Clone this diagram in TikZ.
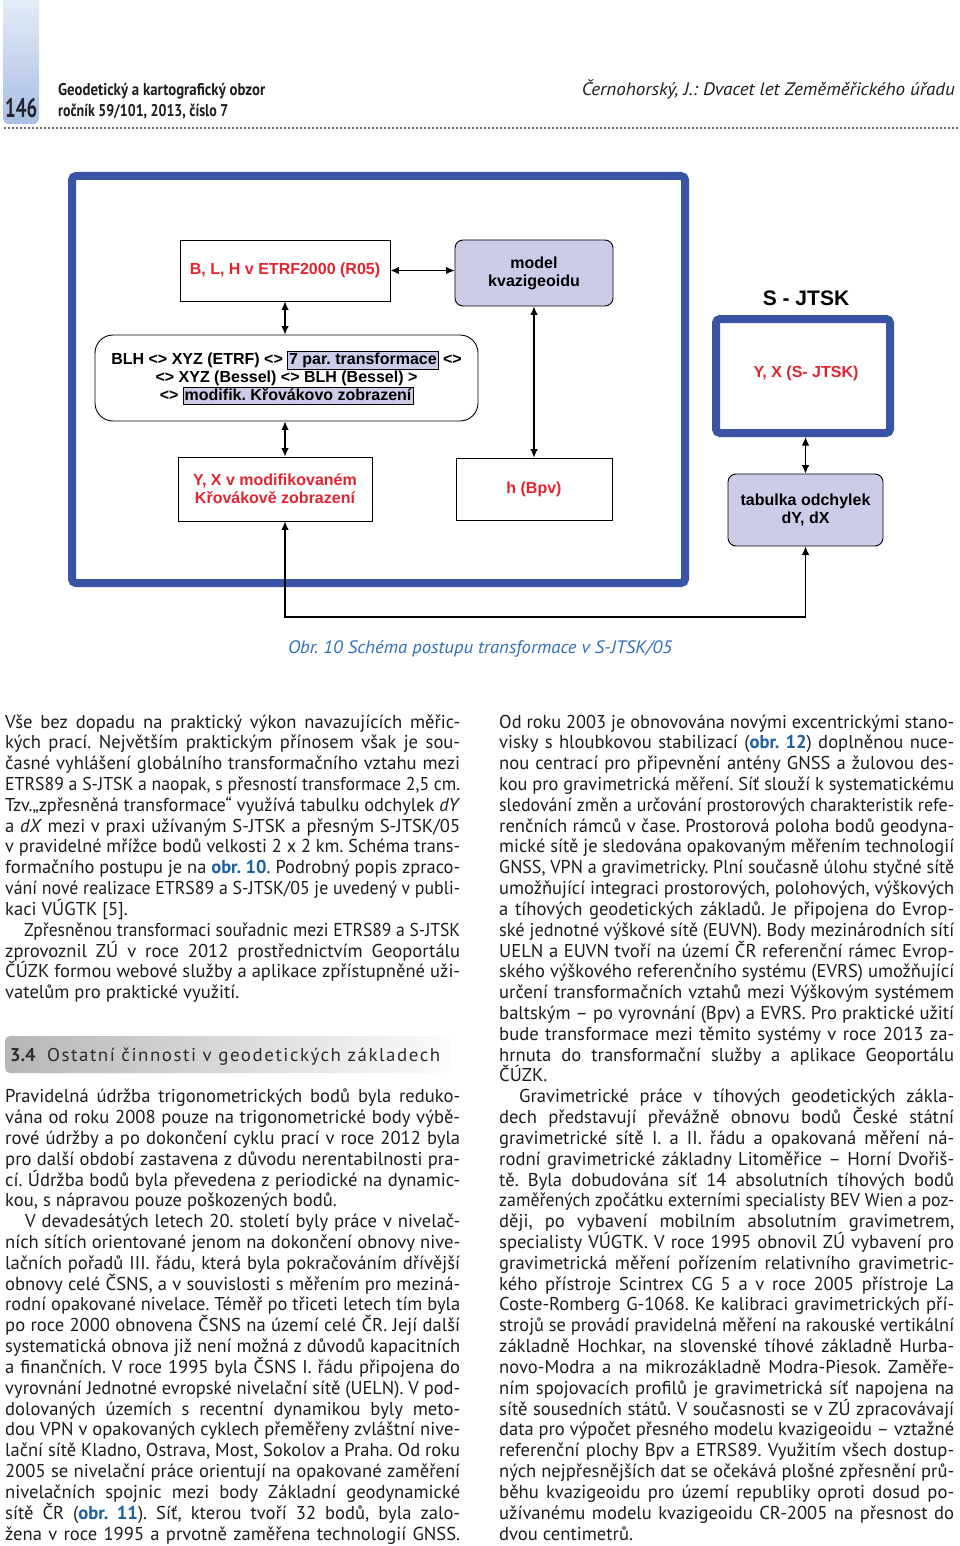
\documentclass[tikz,border=0pt]{standalone}
\usepackage{fontspec}
\usepackage{graphicx}
\setmainfont{PT Sans}
\newfontfamily\arialf{Liberation Sans}
\usetikzlibrary{arrows.meta}

\definecolor{frameblue}{RGB}{58,84,165}
\definecolor{lav}{RGB}{204,204,232}
\definecolor{dred}{RGB}{226,36,48}
\definecolor{linkblue}{RGB}{30,96,160}
\definecolor{capblue}{RGB}{45,112,185}
\definecolor{txt}{RGB}{30,28,28}
\definecolor{headgray}{RGB}{45,45,45}

\frenchspacing
\newbox\jlb
\newdimen\cw \cw=455pt
\newcommand\jl[1]{\setbox\jlb\hbox{#1}\ifdim\wd\jlb>\cw
  \edef\jlr{\fpeval{\the\cw/\the\wd\jlb}}\scalebox{\jlr}[1]{\box\jlb}%
  \else\hbox to\cw{\unhbox\jlb}\fi}
\newcommand\fitw[2]{\setbox\jlb\hbox{#2}\edef\jlr{\fpeval{#1/\the\wd\jlb}}\scalebox{\jlr}[1]{\box\jlb}}
\newcommand\bodyf{\fontsize{18.6pt}{20.82pt}\selectfont}
\newcommand\diagf{\arialf\bfseries\fontsize{16pt}{18pt}\selectfont}
\newcommand\lk[1]{{\bfseries\color{linkblue}#1}}
\newcommand\hlb[1]{{\setlength\fboxsep{1.2pt}\setlength\fboxrule{0.6pt}\fcolorbox{black}{lav}{\rule[-3pt]{0pt}{12.5pt}#1}}}
\newcounter{ln}
% justified line: x, line index, text
\newcommand\tl[3]{\stepcounter{ln}\node[txtline] (l\theln) at (#1,{728+20.82*#2}) {\jl{#3}};}
% last line of a paragraph
\newcommand\tll[3]{\stepcounter{ln}\node[txtline] (l\theln) at (#1,{728+20.82*#2}) {#3};}
\newcommand\ind{\hspace*{20pt}}

\begin{document}
\begin{tikzpicture}[x=1pt,y=-1pt,
  txtline/.style={anchor=base west,inner sep=0pt,font=\bodyf,text=txt},
  frame/.style={draw=frameblue,line width=8pt,rounded corners=4pt},
  wbox/.style={draw=black,line width=0.9pt,fill=white,inner sep=0pt,align=center,font=\diagf,text=dred},
  lbox/.style={draw=black,line width=0.9pt,fill=lav,rounded corners=8pt,inner sep=0pt,align=center,font=\diagf,text=black},
  conn/.style={line width=1.1pt,{Latex[length=8.5pt,width=7.5pt]}-{Latex[length=8.5pt,width=7.5pt]}},
  plain/.style={inner sep=0pt},
]
\useasboundingbox (0,0) rectangle (960,1546);
\fill[white] (0,0) rectangle (960,1546);

% ---------- header ----------
\node[plain, minimum width=36pt, minimum height=140pt, rounded corners=6pt,
  top color={rgb,255:red,236;green,241;blue,250}, bottom color={rgb,255:red,168;green,190;blue,226}] (tab) at (21,54) {};
\node[plain, anchor=base west, text={rgb,255:red,35;green,35;blue,45}] (pgno) at (5,118)
  {\fontsize{27pt}{27pt}\selectfont\bfseries\fitw{32}{146}};
\node[plain, anchor=base west, text=txt] (hd1) at (58,96)
  {\fontsize{17pt}{17pt}\selectfont\bfseries\fitw{207}{Geodetický a kartografický obzor}};
\node[plain, anchor=base west, text=txt] (hd2) at (58,117)
  {\fontsize{17pt}{17pt}\selectfont\bfseries\fitw{170}{ročník 59/101, 2013, číslo 7}};
\node[plain, anchor=base east, text=txt] (hd3) at (955,96)
  {\fontsize{18pt}{18pt}\selectfont\itshape\fitw{373}{Černohorský, J.: Dvacet let Zeměměřického úřadu}};
\coordinate (dl) at (5,128);
\coordinate (dr) at (958,128);
\draw[line width=2.2pt, line cap=round, dash pattern=on 0pt off 4pt, draw={rgb,255:red,60;green,60;blue,60}] (dl) -- (dr);

% ---------- diagram ----------
\node[frame, minimum width=613pt, minimum height=407pt] (outer) at (378.5,379.5) {};
\node[frame, minimum width=174pt, minimum height=114pt, fill=white] (sbox) at (803,376) {};
\node[plain, font=\arialf\bfseries\fontsize{21pt}{21pt}\selectfont] (slabel) at (806,298) {S - JTSK};
\node[plain, font=\diagf, text=dred] (stext) at (806,373) {Y, X (S- JTSK)};

\node[wbox, minimum width=210pt, minimum height=61pt] (blh) at (285,270.5) {B, L, H v ETRF2000 (R05)};
\node[lbox, minimum width=158pt, minimum height=66pt] (kvazi) at (534,273) {model\\kvazigeoidu};
\node[wbox, text=black, rounded corners=18pt, minimum width=383pt, minimum height=86pt] (mid) at (286.5,378)
  {BLH <> XYZ (ETRF) <> \hlb{7 par. transformace} <>\\ <> XYZ (Bessel) <> BLH (Bessel) >\\ <> \hlb{modifik. Křovákovo zobrazení}};
\node[wbox, minimum width=194pt, minimum height=64pt] (yx) at (275,489) {Y, X v modifikovaném\\Křovákově zobrazení};
\node[wbox, minimum width=156pt, minimum height=62pt] (hb) at (534,489) {h (Bpv)};
\node[lbox, minimum width=155pt, minimum height=72pt] (tabo) at (805.5,510) {tabulka odchylek\\dY, dX};

\coordinate (ax) at (285,0);
\coordinate (bot) at (285,617);
\draw[conn] (blh.east) -- (blh.east -| kvazi.west);
\draw[conn] (blh.south) -- (blh.south |- mid.north);
\draw[conn] (ax |- mid.south) -- (ax |- yx.north);
\draw[conn] (kvazi.south) -- (kvazi.south |- hb.north);
\draw[conn] (tabo.north |- sbox.south) -- (tabo.north);
\draw[conn] (ax |- yx.south) -- (bot) -| (tabo.south);

% ---------- caption ----------
\node[plain, anchor=base, text=capblue] (cap) at (480,653)
  {\fontsize{18pt}{18pt}\selectfont\itshape\fitw{384}{Obr. 10 Schéma postupu transformace v S-JTSK/05}};

% ---------- left column ----------
\tl{5}{0}{Vše bez dopadu na praktický výkon navazujících měřic-}
\tl{5}{1}{kých prací. Největším praktickým přínosem však je sou-}
\tl{5}{2}{časné vyhlášení globálního transformačního vztahu mezi}
\tl{5}{3}{ETRS89 a S-JTSK a naopak, s přesností transformace 2,5 cm.}
\tl{5}{4}{Tzv.„zpřesněná transformace“ využívá tabulku odchylek \textit{dY}}
\tl{5}{5}{a \textit{dX} mezi v praxi užívaným S-JTSK a přesným S-JTSK/05}
\tl{5}{6}{v pravidelné mřížce bodů velkosti 2 x 2 km. Schéma trans-}
\tl{5}{7}{formačního postupu je na \lk{obr. 10}. Podrobný popis zpraco-}
\tl{5}{8}{vání nové realizace ETRS89 a S-JTSK/05 je uvedený v publi-}
\tll{5}{9}{kaci VÚGTK [5].}
\tl{5}{10}{\ind Zpřesněnou transformaci souřadnic mezi ETRS89 a S-JTSK}
\tl{5}{11}{zprovoznil ZÚ v roce 2012 prostřednictvím Geoportálu}
\tl{5}{12}{ČÚZK formou webové služby a aplikace zpřístupněné uži-}
\tll{5}{13}{vatelům pro praktické využití.}

\node[plain, minimum width=445pt, minimum height=37pt, rounded corners=5pt,
  left color={rgb,255:red,182;green,182;blue,182}, right color={rgb,255:red,252;green,252;blue,252}] (hbox) at (227.5,1054.5) {};
\node[plain, anchor=base west, text=headgray] (hnum) at (10,1061)
  {\fontsize{18.5pt}{18pt}\selectfont\bfseries 3.4};
\node[plain, anchor=base west, text=headgray] (htitle) at (47,1061)
  {\fontsize{18.5pt}{18pt}\selectfont\fitw{393}{\addfontfeatures{LetterSpace=8}Ostatní činnosti v geodetických základech}};

\tl{5}{18}{Pravidelná údržba trigonometrických bodů byla reduko-}
\tl{5}{19}{vána od roku 2008 pouze na trigonometrické body výbě-}
\tl{5}{20}{rové údržby a po dokončení cyklu prací v roce 2012 byla}
\tl{5}{21}{pro další období zastavena z důvodu nerentabilnosti pra-}
\tl{5}{22}{cí. Údržba bodů byla převedena z periodické na dynamic-}
\tll{5}{23}{kou, s nápravou pouze poškozených bodů.}
\tl{5}{24}{\ind V devadesátých letech 20. století byly práce v nivelač-}
\tl{5}{25}{ních sítích orientované jenom na dokončení obnovy nive-}
\tl{5}{26}{lačních pořadů III. řádu, která byla pokračováním dřívější}
\tl{5}{27}{obnovy celé ČSNS, a v souvislosti s měřením pro meziná-}
\tl{5}{28}{rodní opakované nivelace. Téměř po třiceti letech tím byla}
\tl{5}{29}{po roce 2000 obnovena ČSNS na území celé ČR. Její další}
\tl{5}{30}{systematická obnova již není možná z důvodů kapacitních}
\tl{5}{31}{a finančních. V roce 1995 byla ČSNS I. řádu připojena do}
\tl{5}{32}{vyrovnání Jednotné evropské nivelační sítě (UELN). V pod-}
\tl{5}{33}{dolovaných územích s recentní dynamikou byly meto-}
\tl{5}{34}{dou VPN v opakovaných cyklech přeměřeny zvláštní nive-}
\tl{5}{35}{lační sítě Kladno, Ostrava, Most, Sokolov a Praha. Od roku}
\tl{5}{36}{2005 se nivelační práce orientují na opakované zaměření}
\tl{5}{37}{nivelačních spojnic mezi body Základní geodynamické}
\tl{5}{38}{sítě ČR (\lk{obr. 11}). Síť, kterou tvoří 32 bodů, byla zalo-}
\tl{5}{39}{žena v roce 1995 a prvotně zaměřena technologií GNSS.}

% ---------- right column ----------
\tl{499}{0}{Od roku 2003 je obnovována novými excentrickými stano-}
\tl{499}{1}{visky s hloubkovou stabilizací (\lk{obr. 12}) doplněnou nuce-}
\tl{499}{2}{nou centrací pro připevnění antény GNSS a žulovou des-}
\tl{499}{3}{kou pro gravimetrická měření. Síť slouží k systematickému}
\tl{499}{4}{sledování změn a určování prostorových charakteristik refe-}
\tl{499}{5}{renčních rámců v čase. Prostorová poloha bodů geodyna-}
\tl{499}{6}{mické sítě je sledována opakovaným měřením technologií}
\tl{499}{7}{GNSS, VPN a gravimetricky. Plní současně úlohu styčné sítě}
\tl{499}{8}{umožňující integraci prostorových, polohových, výškových}
\tl{499}{9}{a tíhových geodetických základů. Je připojena do Evrop-}
\tl{499}{10}{ské jednotné výškové sítě (EUVN). Body mezinárodních sítí}
\tl{499}{11}{UELN a EUVN tvoří na území ČR referenční rámec Evrop-}
\tl{499}{12}{ského výškového referenčního systému (EVRS) umožňující}
\tl{499}{13}{určení transformačních vztahů mezi Výškovým systémem}
\tl{499}{14}{baltským – po vyrovnání (Bpv) a EVRS. Pro praktické užití}
\tl{499}{15}{bude transformace mezi těmito systémy v roce 2013 za-}
\tl{499}{16}{hrnuta do transformační služby a aplikace Geoportálu}
\tll{499}{17}{ČÚZK.}
\tl{499}{18}{\ind Gravimetrické práce v tíhových geodetických zákla-}
\tl{499}{19}{dech představují převážně obnovu bodů České státní}
\tl{499}{20}{gravimetrické sítě I. a II. řádu a opakovaná měření ná-}
\tl{499}{21}{rodní gravimetrické základny Litoměřice – Horní Dvořiš-}
\tl{499}{22}{tě. Byla dobudována síť 14 absolutních tíhových bodů}
\tl{499}{23}{zaměřených zpočátku externími specialisty BEV Wien a poz-}
\tl{499}{24}{ději, po vybavení mobilním absolutním gravimetrem,}
\tl{499}{25}{specialisty VÚGTK. V roce 1995 obnovil ZÚ vybavení pro}
\tl{499}{26}{gravimetrická měření pořízením relativního gravimetric-}
\tl{499}{27}{kého přístroje Scintrex CG 5 a v roce 2005 přístroje La}
\tl{499}{28}{Coste-Romberg G-1068. Ke kalibraci gravimetrických pří-}
\tl{499}{29}{strojů se provádí pravidelná měření na rakouské vertikální}
\tl{499}{30}{základně Hochkar, na slovenské tíhové základně Hurba-}
\tl{499}{31}{novo-Modra a na mikrozákladně Modra-Piesok. Zaměře-}
\tl{499}{32}{ním spojovacích profilů je gravimetrická síť napojena na}
\tl{499}{33}{sítě sousedních států. V současnosti se v ZÚ zpracovávají}
\tl{499}{34}{data pro výpočet přesného modelu kvazigeoidu – vztažné}
\tl{499}{35}{referenční plochy Bpv a ETRS89. Využitím všech dostup-}
\tl{499}{36}{ných nejpřesnějších dat se očekává plošné zpřesnění prů-}
\tl{499}{37}{běhu kvazigeoidu pro území republiky oproti dosud po-}
\tl{499}{38}{užívanému modelu kvazigeoidu CR-2005 na přesnost do}
\tll{499}{39}{dvou centimetrů.}
\end{tikzpicture}
\end{document}
